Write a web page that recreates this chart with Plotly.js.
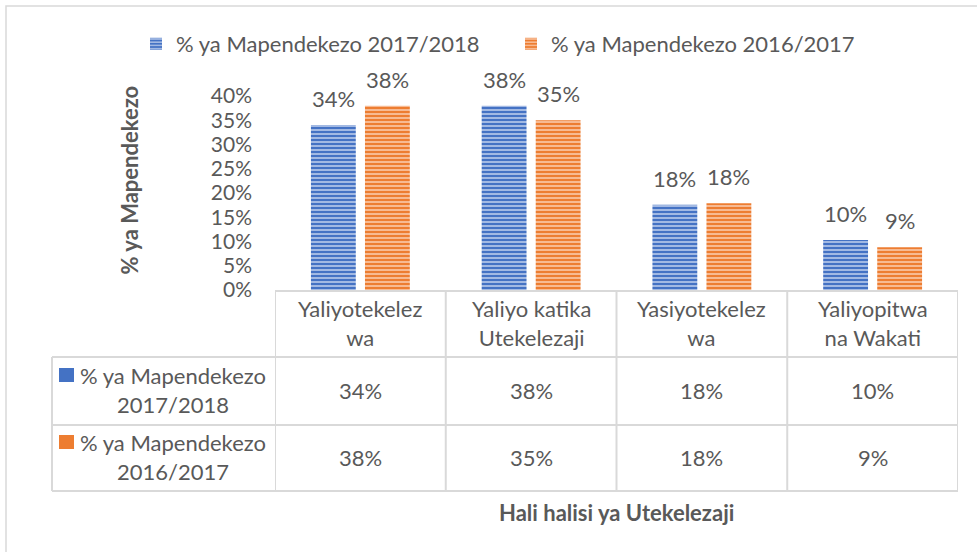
<!DOCTYPE html>
<html><head><meta charset="utf-8">
<script src="https://cdn.plot.ly/plotly-3.0.1.min.js"></script>
<style>html,body{margin:0;padding:0;background:#fff}#chart{width:977px;height:552px}</style>
</head><body><div id="chart"></div>
<script>
// ---- data ----
const categories = ["Yaliyotekelezwa", "Yaliyo katika Utekelezaji", "Yasiyotekelezwa", "Yaliyopitwa na Wakati"];
const tickLabels = ["Yaliyotekelez<br>wa", "Yaliyo katika<br>Utekelezaji", "Yasiyotekelez<br>wa", "Yaliyopitwa<br>na Wakati"];
const seriesNames = ["% ya Mapendekezo 2017/2018", "% ya Mapendekezo 2016/2017"];
const values2017 = [0.34, 0.38, 0.176, 0.103];
const values2016 = [0.38, 0.35, 0.179, 0.088];
const yTickValues = [0, 0.05, 0.10, 0.15, 0.20, 0.25, 0.30, 0.35, 0.40];
const yTitle = "% ya Mapendekezo";
const xTitle = "Hali halisi ya Utekelezaji";

// ---- style / layout helpers ----
const FONT = 'Lato, "Open Sans", sans-serif';
const GREY = '#595959';
const LINE = '#d9d9d9';
const FS = 22;
const W = 977, H = 552, M = {l: 275, r: 19, t: 96, b: 262};
const PW = W - M.l - M.r, PH = H - M.t - M.b;
const px = x => (x - M.l) / PW;          // pixel x -> paper
const py = y => (M.t + PH - y) / PH;     // pixel y -> paper
const pct = v => Math.round(v * 100) + '%';

const seriesValues = [values2017, values2016];
const colors = ['#4472C4', '#ED7D31'];
const stripe = ['rgba(225,233,248,0.85)', 'rgba(252,228,212,0.85)'];

const traces = seriesValues.map((vals, i) => ({
  type: 'bar', x: categories, y: vals, name: seriesNames[i],
  marker: {color: colors[i], line: {width: 0},
    pattern: {shape: '-', size: 4, solidity: 0.35, fgcolor: stripe[i], bgcolor: colors[i], fillmode: 'replace'}},
  hoverinfo: 'none'
}));

const annotations = [];
const shapes = [];
const shift = [-27, 27];
// bar value labels
seriesValues.forEach((vals, i) => vals.forEach((v, j) => annotations.push({
  x: categories[j], y: v, xref: 'x', yref: 'y', text: pct(v), showarrow: false,
  xshift: shift[i], yshift: 11, yanchor: 'bottom', font: {family: FONT, size: FS, color: GREY}
})));
// table header (category labels)
categories.forEach((c, j) => annotations.push({
  x: c, xref: 'x', y: py(323), yref: 'paper', text: tickLabels[j], showarrow: false,
  yanchor: 'middle', font: {family: FONT, size: FS, color: GREY}
}));
// table rows
const rowCenters = [390, 457];
seriesValues.forEach((vals, i) => {
  vals.forEach((v, j) => annotations.push({
    x: categories[j], xref: 'x', y: py(rowCenters[i]), yref: 'paper', text: pct(v), showarrow: false,
    yanchor: 'middle', font: {family: FONT, size: FS, color: GREY}
  }));
  annotations.push({
    x: px(173), xref: 'paper', y: py(rowCenters[i]), yref: 'paper',
    text: seriesNames[i].replace(/ (\S+)$/, '<br>$1'), showarrow: false,
    xanchor: 'center', yanchor: 'middle', align: 'center', font: {family: FONT, size: FS, color: GREY}
  });
  shapes.push({type: 'rect', xref: 'paper', yref: 'paper', x0: px(59), x1: px(74),
    y0: py(rowCenters[i] - 8), y1: py(rowCenters[i] - 22), fillcolor: colors[i], line: {width: 0}});
});
// axis titles
annotations.push({x: px(113), xref: 'paper', y: py(180), yref: 'paper', text: '<b>' + yTitle + '</b>',
  textangle: -90, showarrow: false, font: {family: FONT, size: 22, color: GREY}});
annotations.push({x: 0.5, xref: 'paper', y: py(512), yref: 'paper', text: '<b>' + xTitle + '</b>',
  showarrow: false, yanchor: 'middle', font: {family: FONT, size: 22, color: GREY}});

// table grid lines
const lineStyle = {color: LINE, width: 2};
[357, 425, 491].forEach(y => shapes.push({type: 'line', xref: 'paper', yref: 'paper',
  x0: px(52), x1: 1, y0: py(y), y1: py(y), line: lineStyle}));
shapes.push({type: 'line', xref: 'paper', yref: 'paper', x0: px(52), x1: px(52), y0: py(357), y1: py(491), line: lineStyle});
[-0.5, 0.5, 1.5, 2.5, 3.5].forEach(x => shapes.push({type: 'line', xref: 'x', yref: 'paper',
  x0: x, x1: x, y0: 0, y1: py(491), line: lineStyle}));
// outer chart frame
shapes.push({type: 'path', xref: 'paper', yref: 'paper',
  path: `M ${px(6)} ${py(560)} L ${px(6)} ${py(6)} L ${px(985)} ${py(6)}`, line: {color: LINE, width: 1.5}});

const layout = {
  width: W, height: H, margin: M, paper_bgcolor: '#fff', plot_bgcolor: '#fff',
  font: {family: FONT, size: FS, color: GREY},
  barmode: 'group', bargap: 0.367, bargroupgap: 0.17,
  showlegend: true,
  legend: {orientation: 'h', x: px(136), xanchor: 'left', y: py(44), yanchor: 'middle',
    font: {family: FONT, size: FS, color: GREY}, entrywidth: 330, entrywidthmode: 'pixels',
    bgcolor: 'rgba(0,0,0,0)'},
  xaxis: {type: 'category', range: [-0.5, 3.5], showticklabels: false, ticks: '', showgrid: false,
    zeroline: false, showline: true, linecolor: LINE, linewidth: 2, fixedrange: true},
  yaxis: {range: [0, 0.4], tickvals: yTickValues, tickformat: '.0%', showgrid: false, zeroline: false,
    showline: false, ticks: '', ticklabelstandoff: 22, tickfont: {family: FONT, size: 21, color: GREY}, fixedrange: true},
  annotations: annotations, shapes: shapes
};

Plotly.newPlot('chart', traces, layout, {displayModeBar: false, staticPlot: true});
</script>
</body></html>
